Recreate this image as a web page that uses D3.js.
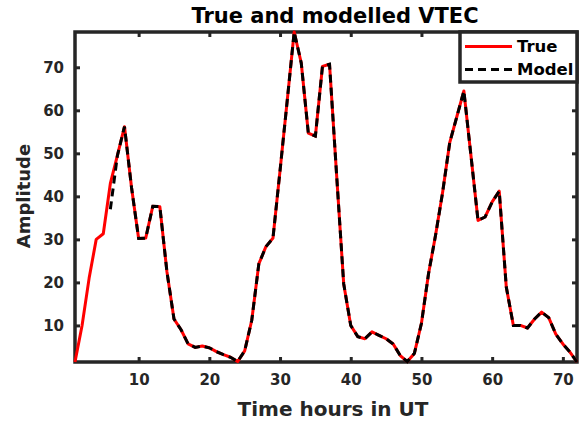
<!DOCTYPE html>
<html>
<head>
<meta charset="utf-8">
<script src="https://cdn.jsdelivr.net/npm/d3@7"></script>
<style>
	body { margin: 0; background: #fff; }
	svg text { font-family: 'DejaVu Sans', sans-serif; font-weight: bold; }
</style>
</head>
<body>
<svg id="chart" width="588" height="421"></svg>
<script>
// hours 1..72
const hours = d3.range(1, 73);
const trueValues = [
	1.5, 10, 21, 30, 31.3, 43, 49.5, 56.2, 42, 30.2,
	30.3, 37.7, 37.6, 22.5, 11.5, 9, 5.7, 4.9, 5.2, 4.8,
	3.9, 3.2, 2.6, 1.6, 4.1, 11.2, 24.3, 28.3, 30.3, 46,
	62, 78.2, 71, 54.7, 54, 70.2, 70.7, 45, 19.7, 10,
	7.4, 6.9, 8.5, 7.7, 6.9, 5.7, 3.0, 1.6, 3.5, 10.5,
	22, 31, 41, 52.5, 58.5, 64.5, 49.5, 34.4, 35.2, 38.7,
	41.2, 18.9, 10, 10, 9.4, 11.5, 13.1, 11.8, 8, 5.7,
	3.8, 1.5
];
// model has no output for the first five hours
const modelValues = trueValues.map(function(v, i) {
	if (i < 5) return null;
	if (i === 5) return 37;
	return v;
});
const xTicks = [10, 20, 30, 40, 50, 60, 70];
const yTicks = [10, 20, 30, 40, 50, 60, 70];
const seriesNames = ['True', 'Model'];

const axisColor = '#262626';
const plot = { left: 75, right: 577, top: 32, bottom: 362 };

const svg = d3.select('#chart');

const xScale = d3.scaleLinear()
	.domain([1, 72])
	.range([plot.left, plot.right]);
const yScale = d3.scaleLinear()
	.domain(d3.extent(trueValues))
	.range([plot.bottom, plot.top]);

drawAxes();
drawSeries();
drawLegend();
drawLabels();

function drawAxes() {
	const tickLen = 5;
	const g = svg.append('g');

	// inward ticks on all four sides
	g.append('g')
		.attr('transform', 'translate(0,' + plot.bottom + ')')
		.call(d3.axisBottom(xScale).tickValues(xTicks).tickSize(-tickLen).tickPadding(12));
	g.append('g')
		.attr('transform', 'translate(0,' + plot.top + ')')
		.call(d3.axisTop(xScale).tickValues(xTicks).tickSize(-tickLen).tickFormat(''));
	g.append('g')
		.attr('transform', 'translate(' + plot.left + ',0)')
		.call(d3.axisLeft(yScale).tickValues(yTicks).tickSize(-tickLen).tickPadding(11));
	g.append('g')
		.attr('transform', 'translate(' + plot.right + ',0)')
		.call(d3.axisRight(yScale).tickValues(yTicks).tickSize(-tickLen).tickFormat(''));

	g.selectAll('.domain').remove();
	g.selectAll('.tick line')
		.attr('stroke', axisColor)
		.attr('stroke-width', 3);
	g.selectAll('.tick text')
		.attr('fill', axisColor)
		.style('font-size', '15px');

	g.append('rect')
		.attr('x', plot.left)
		.attr('y', plot.top)
		.attr('width', plot.right - plot.left)
		.attr('height', plot.bottom - plot.top)
		.attr('fill', 'none')
		.attr('stroke', axisColor)
		.attr('stroke-width', 3.5);
}

function drawSeries() {
	const line = d3.line()
		.defined(function(d) { return d != null; })
		.x(function(d, i) { return xScale(hours[i]); })
		.y(function(d) { return yScale(d); });

	svg.append('path')
		.attr('d', line(trueValues))
		.attr('fill', 'none')
		.attr('stroke', '#ff0000')
		.attr('stroke-width', 3)
		.attr('stroke-linejoin', 'round');

	svg.append('path')
		.attr('d', line(modelValues))
		.attr('fill', 'none')
		.attr('stroke', '#000')
		.attr('stroke-width', 3)
		.attr('stroke-dasharray', '8,5');
}

function drawLegend() {
	const box = { x: 460, y: plot.top, w: plot.right - 460, h: 50 };
	const g = svg.append('g');

	g.append('rect')
		.attr('x', box.x)
		.attr('y', box.y)
		.attr('width', box.w)
		.attr('height', box.h)
		.attr('fill', '#fff')
		.attr('stroke', axisColor)
		.attr('stroke-width', 3.5);

	const items = [
		{ name: seriesNames[0], color: '#ff0000', dash: null, y: 46.5 },
		{ name: seriesNames[1], color: '#000', dash: '8,5', y: 69.5 }
	];
	items.forEach(function(item) {
		g.append('line')
			.attr('x1', 465)
			.attr('x2', 512)
			.attr('y1', item.y)
			.attr('y2', item.y)
			.attr('stroke', item.color)
			.attr('stroke-width', 3)
			.attr('stroke-dasharray', item.dash);
		g.append('text')
			.attr('x', 517)
			.attr('y', item.y)
			.attr('dy', '0.36em')
			.style('font-size', '16.5px')
			.attr('fill', '#000')
			.text(item.name);
	});
}

function drawLabels() {
	svg.append('text')
		.attr('x', 335)
		.attr('y', 22.5)
		.attr('text-anchor', 'middle')
		.style('font-size', '21px')
		.attr('fill', '#000')
		.text('True and modelled VTEC');

	svg.append('text')
		.attr('x', 333)
		.attr('y', 416)
		.attr('text-anchor', 'middle')
		.style('font-size', '20px')
		.attr('fill', axisColor)
		.text('Time hours in UT');

	svg.append('text')
		.attr('transform', 'translate(30,196) rotate(-90)')
		.attr('text-anchor', 'middle')
		.style('font-size', '18px')
		.attr('fill', axisColor)
		.text('Amplitude');
}
</script>
</body>
</html>
